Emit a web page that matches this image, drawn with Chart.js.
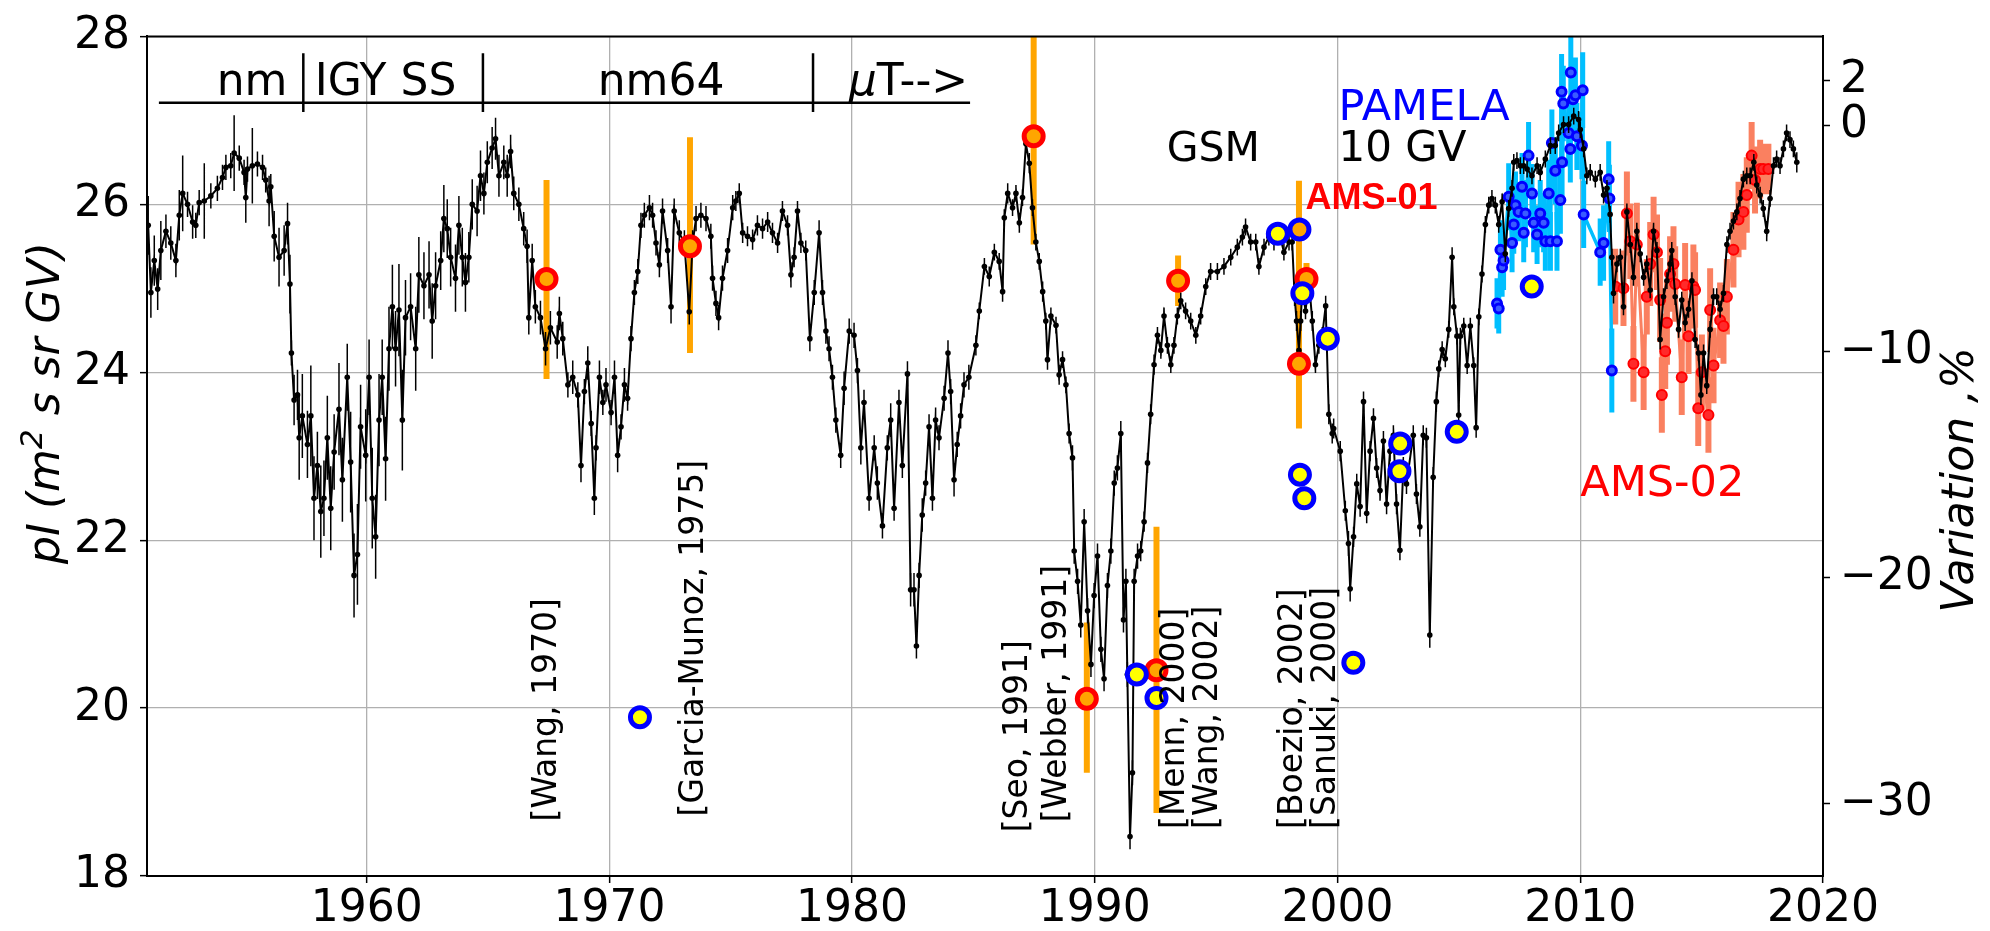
<!DOCTYPE html>
<html>
<head>
<meta charset="utf-8">
<script src="https://cdn.jsdelivr.net/npm/chart.js@4.4.0/dist/chart.umd.min.js"></script>
<style>
  html, body { margin: 0; padding: 0; background: #fff; }
  #wrap { width: 1990px; height: 931px; position: relative; }
</style>
</head>
<body>
<div id="wrap"><canvas id="chart"></canvas></div>
<script>
// GSM 10 GV reconstructed intensity, with balloon / satellite measurements
const gsmYears = [
  1951.0, 1951.11, 1951.25, 1951.39, 1951.52, 1951.73, 1951.93, 1952.14, 1952.28, 1952.42,
  1952.62, 1952.83, 1952.96, 1953.1, 1953.31, 1953.58, 1953.85, 1954.06, 1954.2, 1954.4,
  1954.54, 1954.75, 1954.95, 1955.02, 1955.09, 1955.29, 1955.5, 1955.71, 1955.84, 1955.98,
  1956.05, 1956.19, 1956.39, 1956.6, 1956.74, 1956.84, 1956.9, 1957.01, 1957.15, 1957.22,
  1957.35, 1957.56, 1957.7, 1957.83, 1957.97, 1958.11, 1958.24, 1958.38, 1958.52, 1958.66,
  1958.86, 1959.0, 1959.2, 1959.34, 1959.48, 1959.62, 1959.75, 1959.96, 1960.1, 1960.23,
  1960.37, 1960.51, 1960.64, 1960.78, 1960.92, 1961.06, 1961.19, 1961.33, 1961.47, 1961.6,
  1961.81, 1962.02, 1962.15, 1962.36, 1962.57, 1962.7, 1962.84, 1963.05, 1963.18, 1963.32,
  1963.46, 1963.66, 1963.8, 1963.94, 1964.07, 1964.21, 1964.35, 1964.55, 1964.69, 1964.83,
  1964.97, 1965.17, 1965.31, 1965.45, 1965.65, 1965.79, 1965.93, 1966.06, 1966.27, 1966.47,
  1966.61, 1966.68, 1966.82, 1966.95, 1967.16, 1967.37, 1967.57, 1967.85,
  1967.94, 1968.08, 1968.29, 1968.49, 1968.7, 1968.83, 1968.97, 1969.11, 1969.25, 1969.38,
  1969.45, 1969.59, 1969.73, 1969.86, 1970.07, 1970.21, 1970.34, 1970.48, 1970.62, 1970.75,
  1970.89, 1971.03, 1971.17, 1971.3, 1971.44, 1971.65, 1971.78, 1971.92, 1972.06, 1972.19,
  1972.4, 1972.54, 1972.67, 1972.88, 1973.09, 1973.29, 1973.43, 1973.57, 1973.77, 1973.98,
  1974.18, 1974.25, 1974.39, 1974.5, 1974.66, 1974.87, 1975.08, 1975.21, 1975.35, 1975.49,
  1975.69, 1975.9, 1976.1, 1976.31, 1976.52, 1976.72, 1976.93, 1977.13, 1977.34, 1977.48,
  1977.61, 1977.75, 1977.89, 1978.09, 1978.26, 1978.44, 1978.64, 1978.78, 1978.92, 1979.05,
  1979.19, 1979.33, 1979.53, 1979.67, 1979.88, 1980.08, 1980.22, 1980.36, 1980.49, 1980.7,
  1980.91, 1981.04, 1981.25, 1981.45, 1981.59, 1981.73, 1981.93, 1982.07, 1982.28, 1982.41,
  1982.55, 1982.65, 1982.76, 1982.89, 1983.03, 1983.17, 1983.31, 1983.44, 1983.58, 1983.79,
  1983.95, 1984.06, 1984.2, 1984.33, 1984.47, 1984.61, 1984.81,
  1985.1, 1985.24, 1985.45, 1985.65, 1985.86, 1986.06, 1986.2, 1986.27, 1986.41, 1986.61,
  1986.75, 1986.89, 1987.02, 1987.16, 1987.3, 1987.43, 1987.57, 1987.71, 1987.85, 1987.98,
  1988.05, 1988.19, 1988.4, 1988.53, 1988.67, 1988.81, 1988.94, 1989.08, 1989.15, 1989.29,
  1989.42, 1989.56, 1989.7, 1989.84, 1989.97, 1990.11, 1990.25, 1990.38, 1990.52, 1990.66,
  1990.8, 1990.93, 1991.07, 1991.18, 1991.28, 1991.34, 1991.45, 1991.55, 1991.62, 1991.76,
  1991.89, 1992.03, 1992.17, 1992.3, 1992.44, 1992.58, 1992.72, 1992.85, 1992.99, 1993.13,
  1993.26, 1993.4, 1993.54, 1993.74, 1993.95, 1994.16, 1994.36, 1994.57, 1994.77, 1995.05,
  1995.32, 1995.6, 1995.87, 1996.08, 1996.21, 1996.42, 1996.63, 1996.76, 1996.97, 1997.17,
  1997.38, 1997.59, 1997.79, 1998.0, 1998.13, 1998.23, 1998.31, 1998.41, 1998.48, 1998.55,
  1998.68, 1998.82, 1998.96, 1999.09, 1999.23, 1999.37, 1999.51, 1999.64, 1999.78,
  1999.84, 2000.11, 2000.32, 2000.45, 2000.52, 2000.66, 2000.79, 2000.93, 2001.07, 2001.2,
  2001.34, 2001.48, 2001.61, 2001.75, 2001.89, 2002.02, 2002.16, 2002.3, 2002.43, 2002.57,
  2002.71, 2002.84, 2003.12, 2003.25, 2003.39, 2003.53, 2003.66, 2003.8, 2003.94, 2004.07,
  2004.17, 2004.31, 2004.44, 2004.58, 2004.72, 2004.79, 2004.92, 2004.99, 2005.06, 2005.2,
  2005.34, 2005.47, 2005.61, 2005.71, 2005.82, 2005.95, 2006.09, 2006.23, 2006.36, 2006.5,
  2006.64, 2006.78, 2006.91, 2007.05, 2007.19, 2007.26, 2007.39, 2007.53, 2007.67, 2007.81,
  2008.01, 2008.22, 2008.35, 2008.56, 2008.77, 2008.97, 2009.11, 2009.31, 2009.52, 2009.73,
  2009.93, 2010.0, 2010.14, 2010.27, 2010.41, 2010.62, 2010.82, 2010.96, 2011.1, 2011.23,
  2011.3, 2011.37, 2011.51, 2011.65, 2011.78, 2011.92, 2012.06, 2012.19, 2012.33, 2012.47,
  2012.61, 2012.74, 2012.88, 2013.02, 2013.16, 2013.29, 2013.43, 2013.57, 2013.7, 2013.77,
  2013.91, 2014.05, 2014.18, 2014.32, 2014.46, 2014.6, 2014.73, 2014.87, 2014.97, 2015.08,
  2015.21, 2015.35, 2015.49, 2015.62, 2015.76, 2015.9, 2016.04, 2016.17, 2016.31, 2016.45,
  2016.58, 2016.72, 2016.86, 2017.0, 2017.15, 2017.27, 2017.41, 2017.54, 2017.68, 2017.82,
  2017.96, 2018.09, 2018.23, 2018.37, 2018.5, 2018.64, 2018.78, 2018.92
];
const gsmValues = [
  25.75, 24.95, 25.33, 24.99, 25.45, 25.68, 25.54, 25.33, 25.87, 26.13,
  26.0, 25.79, 25.75, 26.02, 26.04, 26.1, 26.19, 26.32, 26.44, 26.46,
  26.61, 26.55, 26.38, 26.08, 26.42, 26.46, 26.48, 26.44, 26.29, 26.04,
  26.21, 25.62, 25.37, 25.45, 25.77, 25.05, 24.23, 23.67, 23.73, 23.22,
  23.48, 23.14, 23.48, 22.5, 22.89, 22.34, 22.5, 23.22, 22.38, 23.05,
  23.56, 22.72, 23.94, 22.93, 21.58, 21.83, 23.35, 23.01, 23.94, 22.5,
  22.04, 23.43, 23.94, 22.97, 24.28, 24.78, 24.28, 24.74, 23.43, 24.65,
  24.78, 24.28, 25.16, 25.03, 25.16, 24.61, 25.03, 25.33, 25.83, 25.71,
  25.37, 25.12, 25.75, 25.37, 25.07, 25.37, 26.0, 25.92, 26.34, 26.13,
  26.5, 26.67, 26.78, 26.34, 26.5, 26.34, 26.63, 26.13, 26.0, 25.71,
  25.5, 24.65, 25.33, 24.78, 24.65, 24.28, 24.53, 24.36,
  24.7, 24.4, 23.85, 23.94, 23.73, 22.89, 23.77, 24.11, 23.39, 22.5,
  23.1, 23.94, 23.64, 23.85, 23.52, 23.94, 23.01, 23.35, 23.85, 23.69,
  24.4, 24.95, 25.2, 25.75, 25.87, 25.96, 25.87, 25.54, 25.28, 25.92,
  25.45, 24.78, 25.92, 25.66, 25.54, 24.72, 25.54, 25.83, 25.87, 25.83,
  25.62, 25.12, 24.82, 24.65, 25.12, 25.45, 25.96, 26.04, 26.13, 25.66,
  25.62, 25.58, 25.75, 25.71, 25.79, 25.66, 25.54, 25.92, 25.75, 25.16,
  25.37, 25.92, 25.54, 25.45, 24.4, 24.95, 25.66, 24.95, 24.49, 24.28,
  23.94, 23.43, 23.01, 23.81, 24.49, 24.44, 24.02, 23.1, 23.64, 22.5,
  23.1, 22.68, 22.17, 23.1, 23.43, 22.38, 23.64, 22.89, 23.98, 21.41,
  21.41, 20.74, 21.58, 22.3, 22.68, 23.35, 22.5, 23.43, 23.22, 23.69,
  24.23, 23.77, 22.72, 23.14, 23.48, 23.85, 23.94,
  24.32, 24.73, 25.26, 25.14, 25.43, 25.32, 24.96, 25.84, 26.13, 25.96,
  26.13, 25.78, 26.08, 26.72, 26.49, 25.96, 25.55, 25.32, 24.96, 24.61,
  24.15, 24.67, 24.56, 23.97, 24.15, 23.85, 23.27, 22.98, 21.87, 21.51,
  20.99, 22.22, 21.16, 20.52, 21.34, 21.81, 20.7, 20.35, 21.46, 21.87,
  22.68, 22.86, 23.27, 21.05, 21.51, 20.4, 18.47, 19.23, 21.51, 21.81,
  21.87, 22.22, 22.92, 23.5, 24.09, 24.44, 24.26, 24.67, 24.32, 24.09,
  24.32, 24.67, 24.85, 24.73, 24.61, 24.44, 24.67, 25.02, 25.2, 25.2,
  25.26, 25.37, 25.49, 25.61, 25.73, 25.55, 25.55, 25.26, 25.49, 25.61,
  25.55, 25.67, 25.43, 25.55, 25.55, 24.91, 24.61, 24.26, 24.61, 25.02,
  24.73, 25.08, 24.61, 24.09, 24.32, 24.44, 24.79, 23.5, 23.27,
  23.33, 23.06, 22.35, 21.96, 21.42, 22.04, 22.67, 22.4, 23.65, 22.32,
  23.06, 23.45, 22.86, 22.59, 23.18, 22.43, 23.06, 23.25, 22.43, 21.88,
  22.87, 22.67, 23.25, 22.55, 22.16, 23.25, 23.22, 20.87, 22.75, 23.65,
  24.04, 24.27, 24.16, 24.51, 25.37, 24.78, 24.43, 23.49, 24.43, 24.55,
  24.08, 24.55, 24.08, 23.34, 24.66, 25.17, 25.76, 25.99, 26.07, 25.99,
  25.76, 26.03, 25.41, 25.95, 26.19, 26.5, 26.52, 26.46, 26.46, 26.42,
  26.34, 26.46, 26.38, 26.54, 26.7, 26.7, 26.85, 26.95, 26.95, 27.05,
  27.01, 26.89, 26.66, 26.34, 26.38, 26.3, 26.38, 26.11, 26.19, 25.88,
  25.37, 24.94, 25.29, 25.37, 24.78, 25.91, 25.52, 25.13, 25.68, 25.41,
  25.13, 25.29, 24.98, 25.68, 25.45, 24.39, 24.9, 25.09, 25.29, 25.45,
  24.9, 24.51, 24.86, 24.59, 24.75, 25.09, 24.39, 24.23, 23.73, 24.23,
  23.84, 24.51, 24.9, 24.9, 24.75, 24.94, 25.52, 25.68, 25.8, 25.91,
  26.07, 26.3, 26.34, 26.34, 26.5, 26.23, 26.11, 25.95, 25.68, 26.07,
  26.46, 26.54, 26.46, 26.66, 26.85, 26.77, 26.66, 26.5
];
const gsmErrors = [
  0.35, 0.3, 0.3, 0.25, 0.35, 0.2, 0.2, 0.2, 0.3, 0.45,
  0.15, 0.2, 0.15, 0.15, 0.45, 0.15, 0.15, 0.15, 0.15, 0.15,
  0.45, 0.15, 0.15, 0.3, 0.15, 0.45, 0.15, 0.15, 0.15, 0.3,
  0.15, 0.3, 0.35, 0.3, 0.25, 0.35, 0.15, 0.3, 0.3, 0.5,
  0.5, 0.4, 0.6, 0.5, 0.4, 0.55, 0.45, 0.5, 0.5, 0.45,
  0.55, 0.5, 0.4, 0.6, 0.5, 0.6, 0.5, 0.55, 0.45, 0.6,
  0.5, 0.55, 0.45, 0.5, 0.5, 0.5, 0.45, 0.55, 0.6, 0.45,
  0.4, 0.5, 0.45, 0.4, 0.4, 0.45, 0.4, 0.35, 0.4, 0.35,
  0.35, 0.4, 0.35, 0.35, 0.35, 0.3, 0.3, 0.3, 0.3, 0.25,
  0.25, 0.25, 0.25, 0.25, 0.2, 0.25, 0.2, 0.2, 0.2, 0.2,
  0.2, 0.2, 0.2, 0.2, 0.2, 0.2, 0.2, 0.2,
  0.2, 0.2, 0.15, 0.2, 0.15, 0.2, 0.15, 0.2, 0.15, 0.2,
  0.15, 0.2, 0.15, 0.2, 0.15, 0.2, 0.2, 0.15, 0.2, 0.15,
  0.15, 0.15, 0.15, 0.15, 0.15, 0.15, 0.15, 0.15, 0.15, 0.15,
  0.15, 0.2, 0.15, 0.15, 0.15, 0.15, 0.15, 0.15, 0.15, 0.15,
  0.15, 0.15, 0.15, 0.15, 0.15, 0.15, 0.15, 0.12, 0.12, 0.12,
  0.12, 0.12, 0.12, 0.12, 0.12, 0.12, 0.12, 0.12, 0.12, 0.15,
  0.12, 0.12, 0.12, 0.12, 0.15, 0.15, 0.15, 0.15, 0.15, 0.15,
  0.15, 0.15, 0.15, 0.2, 0.15, 0.15, 0.15, 0.2, 0.15, 0.15,
  0.15, 0.2, 0.15, 0.15, 0.2, 0.15, 0.15, 0.15, 0.15, 0.2,
  0.2, 0.15, 0.15, 0.2, 0.15, 0.15, 0.15, 0.15, 0.15, 0.15,
  0.15, 0.15, 0.2, 0.15, 0.15, 0.15, 0.15,
  0.12, 0.1, 0.1, 0.12, 0.1, 0.1, 0.12, 0.1, 0.12, 0.1,
  0.1, 0.12, 0.1, 0.1, 0.12, 0.1, 0.1, 0.1, 0.12, 0.1,
  0.12, 0.1, 0.1, 0.12, 0.1, 0.1, 0.12, 0.15, 0.15, 0.15,
  0.15, 0.15, 0.15, 0.15, 0.15, 0.15, 0.15, 0.15, 0.15, 0.15,
  0.15, 0.15, 0.15, 0.15, 0.15, 0.15, 0.15, 0.15, 0.15, 0.15,
  0.12, 0.12, 0.12, 0.12, 0.12, 0.1, 0.1, 0.1, 0.1, 0.1,
  0.1, 0.1, 0.1, 0.1, 0.1, 0.1, 0.1, 0.1, 0.1, 0.1,
  0.1, 0.1, 0.1, 0.1, 0.1, 0.1, 0.1, 0.1, 0.1, 0.1,
  0.1, 0.1, 0.1, 0.1, 0.1, 0.12, 0.12, 0.12, 0.12, 0.12,
  0.1, 0.1, 0.12, 0.1, 0.1, 0.1, 0.12, 0.12, 0.12,
  0.12, 0.12, 0.12, 0.15, 0.15, 0.12, 0.12, 0.12, 0.12, 0.12,
  0.12, 0.12, 0.12, 0.12, 0.12, 0.12, 0.12, 0.12, 0.12, 0.12,
  0.12, 0.12, 0.12, 0.12, 0.12, 0.12, 0.12, 0.15, 0.12, 0.12,
  0.1, 0.1, 0.1, 0.1, 0.12, 0.1, 0.1, 0.12, 0.1, 0.1,
  0.1, 0.1, 0.1, 0.12, 0.1, 0.1, 0.1, 0.1, 0.1, 0.1,
  0.1, 0.1, 0.1, 0.1, 0.1, 0.1, 0.1, 0.1, 0.1, 0.1,
  0.1, 0.1, 0.1, 0.1, 0.1, 0.1, 0.1, 0.1, 0.1, 0.1,
  0.1, 0.1, 0.1, 0.1, 0.1, 0.1, 0.1, 0.1, 0.1, 0.1,
  0.1, 0.12, 0.1, 0.1, 0.1, 0.1, 0.1, 0.1, 0.1, 0.1,
  0.1, 0.1, 0.1, 0.1, 0.1, 0.12, 0.1, 0.1, 0.1, 0.1,
  0.1, 0.1, 0.1, 0.1, 0.1, 0.1, 0.1, 0.1, 0.12, 0.1,
  0.1, 0.1, 0.1, 0.1, 0.1, 0.1, 0.1, 0.1, 0.1, 0.1,
  0.1, 0.1, 0.1, 0.1, 0.1, 0.1, 0.1, 0.1, 0.12, 0.1,
  0.1, 0.1, 0.1, 0.1, 0.1, 0.1, 0.1, 0.12
];

const pamelaYears = [
  2006.57, 2006.64, 2006.71, 2006.78, 2006.84, 2007.05, 2007.19, 2007.26, 2007.33, 2007.46,
  2007.6, 2007.67, 2007.74, 2007.87, 2008.01, 2008.08, 2008.22, 2008.35, 2008.49, 2008.56,
  2008.7, 2008.77, 2008.83, 2008.97, 2009.04, 2009.18, 2009.23, 2009.25, 2009.3, 2009.52,
  2009.59, 2009.61, 2009.7, 2009.8, 2009.86, 2010.07, 2010.1, 2010.14, 2010.82, 2010.96,
  2011.17, 2011.2, 2011.3
];
const pamelaValues = [
  24.82, 24.76, 25.46, 25.25, 25.33, 26.09, 25.54, 25.76, 25.99, 25.91,
  26.21, 25.66, 25.89, 26.58, 26.13, 25.78, 25.64, 25.89, 25.78, 25.56,
  26.13, 25.56, 26.73, 26.4, 25.56, 26.05, 27.34, 26.5, 27.2, 26.85,
  26.66, 27.57, 27.25, 27.3, 26.81, 26.7, 27.36, 25.88, 25.43, 25.54,
  26.3, 26.07, 24.02
];
const pamelaErrors = [
  0.3, 0.3, 0.35, 0.35, 0.35, 0.4, 0.35, 0.35, 0.4, 0.35,
  0.4, 0.35, 0.4, 0.4, 0.35, 0.35, 0.35, 0.4, 0.35, 0.35,
  0.4, 0.35, 0.4, 0.4, 0.35, 0.4, 0.45, 0.4, 0.45, 0.4,
  0.4, 0.45, 0.45, 0.45, 0.4, 0.4, 0.45, 0.4, 0.4, 0.45,
  0.45, 0.4, 0.5
];

const ams02Years = [
  2011.44, 2011.78, 2011.92, 2012.06, 2012.19, 2012.33, 2012.61, 2012.74, 2012.88, 2013.02,
  2013.16, 2013.29, 2013.36, 2013.5, 2013.57, 2013.7, 2013.84, 2013.91, 2014.18, 2014.32,
  2014.46, 2014.66, 2014.73, 2014.86, 2015.01, 2015.28, 2015.35, 2015.49, 2015.76, 2015.9,
  2016.04, 2016.31, 2016.52, 2016.72, 2016.86, 2017.06, 2017.2, 2017.41, 2017.54, 2017.75
];
const ams02Values = [
  25.02, 25.0, 25.89, 25.56, 24.1, 25.52, 24.0, 24.9, 25.29, 25.64,
  25.43, 24.86, 23.73, 24.25, 24.59, 25.17, 25.29, 25.05, 23.94, 25.04,
  24.43, 25.02, 24.98, 23.57, 24.0, 23.49, 24.74, 24.08, 24.62, 24.55,
  24.9, 25.46, 25.82, 25.91, 26.11, 26.58, 26.29, 26.42, 26.42, 26.42
];
const ams02Errors = [
  0.45, 0.45, 0.5, 0.45, 0.45, 0.5, 0.45, 0.45, 0.5, 0.45,
  0.45, 0.5, 0.45, 0.45, 0.5, 0.45, 0.45, 0.45, 0.45, 0.5,
  0.45, 0.5, 0.45, 0.45, 0.45, 0.45, 0.5, 0.45, 0.45, 0.45,
  0.45, 0.45, 0.45, 0.45, 0.45, 0.4, 0.4, 0.35, 0.3, 0.3
];

// balloon points (red ring, orange bar)
const balloonYears = [1967.41, 1973.32, 1987.48, 1989.67, 1992.54, 1993.43, 1998.41, 1998.72];
const balloonValues = [25.11, 25.5, 26.81, 20.11, 20.45, 25.09, 24.1, 25.11];
const balloonLow = [23.92, 24.23, 25.52, 19.23, 18.75, 24.79, 23.33, 24.9];
const balloonHigh = [26.29, 26.8, 28.2, 21.02, 22.16, 25.39, 26.28, 25.3];

// other experiments (blue ring, yellow fill)
const otherYears = [1971.26, 1991.73, 1992.54, 1997.54, 1998.45, 1998.63, 1998.55, 1999.6, 2000.65, 2002.58, 2002.55, 2004.91, 2008.0];
const otherValues = [19.89, 20.4, 20.12, 25.65, 22.78, 22.5, 24.94, 24.4, 20.54, 23.15, 22.82, 23.29, 25.02];

const ams01Years = [1998.43];
const ams01Values = [25.7];

const yearTicks = [1960, 1970, 1980, 1990, 2000, 2010, 2020];
const fluxTicks = [18, 20, 22, 24, 26, 28];
const variationTicks = [-30, -20, -10, 0, 2];
const referenceFlux = 26.94; // flux at 0 % variation

const refLabels = [
  { text: '[Wang, 1970]', x: 1967.45, y: 18.65 },
  { text: '[Garcia-Munoz, 1975]', x: 1973.5, y: 18.71 },
  { text: '[Seo, 1991]', x: 1986.87, y: 18.52 },
  { text: '[Webber, 1991]', x: 1988.44, y: 18.64 },
  { text: '[Menn, 2000]', x: 1993.33, y: 18.56 },
  { text: '[Wang, 2002]', x: 1994.69, y: 18.56 },
  { text: '[Boezio, 2002]', x: 1998.19, y: 18.56 },
  { text: '[Sanuki, 2000]', x: 1999.55, y: 18.56 }
];

const FONT = "'DejaVu Sans', sans-serif";

function pts(xs, ys) {
  return xs.map((x, i) => ({ x: x, y: ys[i] }));
}

// vertical error bars, drawn right before the owning dataset
const errorBars = {
  id: 'errorBars',
  beforeDatasetDraw(chart, args) {
    const ds = chart.data.datasets[args.index];
    if (!ds.errLow) return;
    const { ctx, chartArea, scales } = chart;
    const x = scales.x, y = scales.y;
    ctx.save();
    ctx.beginPath();
    ctx.rect(chartArea.left, chartArea.top, chartArea.right - chartArea.left, chartArea.bottom - chartArea.top);
    ctx.clip();
    ctx.strokeStyle = ds.errColor;
    ctx.lineWidth = ds.errWidth;
    ctx.beginPath();
    ds.data.forEach((p, i) => {
      const px = x.getPixelForValue(p.x);
      ctx.moveTo(px, y.getPixelForValue(ds.errLow[i]));
      ctx.lineTo(px, y.getPixelForValue(ds.errHigh[i]));
    });
    ctx.stroke();
    ctx.restore();
  }
};

function rotatedText(ctx, parts, cx, cy) {
  ctx.save();
  ctx.translate(cx, cy);
  ctx.rotate(-Math.PI / 2);
  let total = 0;
  parts.forEach(p => { ctx.font = p.font; p.w = ctx.measureText(p.t).width; total += p.w; });
  let x = -total / 2;
  ctx.textAlign = 'left';
  ctx.textBaseline = 'middle';
  ctx.fillStyle = '#000';
  parts.forEach(p => { ctx.font = p.font; ctx.fillText(p.t, x, p.dy || 0); x += p.w; });
  ctx.restore();
}

const annotations = {
  id: 'annotations',
  afterDraw(chart) {
    const { ctx, chartArea, scales } = chart;
    const X = v => scales.x.getPixelForValue(v);
    const Y = v => scales.y.getPixelForValue(v);
    ctx.save();

    // top frame line
    ctx.strokeStyle = '#000';
    ctx.lineWidth = 2;
    ctx.beginPath();
    ctx.moveTo(chartArea.left, chartArea.top);
    ctx.lineTo(chartArea.right, chartArea.top);
    ctx.stroke();

    // instrument periods at the top
    ctx.lineWidth = 2.5;
    ctx.beginPath();
    ctx.moveTo(X(1951.44), Y(27.21));
    ctx.lineTo(X(1984.86), Y(27.21));
    [1957.39, 1964.79, 1978.39].forEach(yr => {
      ctx.moveTo(X(yr), Y(27.8));
      ctx.lineTo(X(yr), Y(27.1));
    });
    ctx.stroke();

    ctx.textAlign = 'left';
    ctx.textBaseline = 'alphabetic';
    ctx.fillStyle = '#000';
    ctx.font = '44px ' + FONT;
    ctx.fillText('nm', X(1953.82), Y(27.3));
    ctx.fillText('IGY SS', X(1957.86), Y(27.3));
    ctx.fillText('nm64', X(1969.52), Y(27.3));
    ctx.font = 'italic 44px ' + FONT;
    ctx.fillText('\u03bc', X(1979.86), Y(27.3));
    const muW = ctx.measureText('\u03bc').width;
    ctx.font = '44px ' + FONT;
    ctx.fillText('T-->', X(1979.86) + muW, Y(27.3));

    ctx.font = '41px ' + FONT;
    ctx.fillText('GSM', X(1992.96), Y(26.52));
    ctx.font = '42px ' + FONT;
    ctx.fillText('10 GV', X(2000.04), Y(26.52));
    ctx.fillStyle = '#0000ff';
    ctx.font = '43px ' + FONT;
    ctx.fillText('PAMELA', X(2000.04), Y(27.01));
    ctx.fillStyle = '#ff0000';
    ctx.font = "bold 36px 'Liberation Sans', Arial, sans-serif";
    ctx.fillText('AMS-01', X(1998.68), Y(25.95));
    ctx.font = '43px ' + FONT;
    ctx.fillText('AMS-02', X(2010.0), Y(22.53));

    // references, rotated
    ctx.fillStyle = '#000';
    ctx.font = '33px ' + FONT;
    refLabels.forEach(r => {
      ctx.save();
      ctx.translate(X(r.x), Y(r.y));
      ctx.rotate(-Math.PI / 2);
      ctx.textAlign = 'left';
      ctx.textBaseline = 'middle';
      ctx.fillText(r.text, 0, 0);
      ctx.restore();
    });

    // axis titles
    const it = 'italic 44px ' + FONT;
    const sup = 'italic 31px ' + FONT;
    rotatedText(ctx, [
      { t: 'pI (m', font: it },
      { t: '2', font: sup, dy: -14 },
      { t: ' s sr GV)', font: it }
    ], 48, 403);
    rotatedText(ctx, [{ t: 'Variation ,%', font: it }], 1962, 480);

    ctx.restore();
  }
};

const fixedTicks = list => scale => { scale.ticks = list.map(v => ({ value: v })); };
const minus = v => (v < 0 ? '\u2212' + Math.abs(v) : String(v));

new Chart(document.getElementById('chart'), {
  type: 'scatter',
  data: {
    datasets: [
      {
        label: 'AMS-01',
        data: pts(ams01Years, ams01Values),
        pointRadius: 9.5, pointBorderWidth: 5,
        pointBorderColor: '#0000ff', pointBackgroundColor: '#ffa500',
        order: 0
      },
      {
        label: 'others',
        data: pts(otherYears, otherValues),
        pointRadius: 9.5, pointBorderWidth: 5,
        pointBorderColor: '#0000ff', pointBackgroundColor: '#ffff00',
        order: 1
      },
      {
        label: 'balloons',
        data: pts(balloonYears, balloonValues),
        pointRadius: 9.5, pointBorderWidth: 5,
        pointBorderColor: '#ff0000', pointBackgroundColor: '#ffa500',
        order: 2
      },
      {
        label: 'GSM',
        data: pts(gsmYears, gsmValues),
        showLine: true, borderColor: '#000', borderWidth: 2,
        pointRadius: 2.8, pointBorderWidth: 0, pointBackgroundColor: '#000',
        errLow: gsmValues.map((v, i) => v - gsmErrors[i]),
        errHigh: gsmValues.map((v, i) => v + gsmErrors[i]),
        errColor: '#000', errWidth: 1.5,
        order: 3
      },
      {
        label: 'balloon errors',
        data: pts(balloonYears, balloonValues),
        pointRadius: 0,
        errLow: balloonLow, errHigh: balloonHigh,
        errColor: '#ffa500', errWidth: 6,
        order: 4
      },
      {
        label: 'PAMELA',
        data: pts(pamelaYears, pamelaValues),
        showLine: true, borderColor: '#00bfff', borderWidth: 3.5,
        pointRadius: 4.5, pointBorderWidth: 3,
        pointBorderColor: '#0000ff', pointBackgroundColor: '#3a5cff',
        errLow: pamelaValues.map((v, i) => v - pamelaErrors[i]),
        errHigh: pamelaValues.map((v, i) => v + pamelaErrors[i]),
        errColor: '#00bfff', errWidth: 5,
        order: 5
      },
      {
        label: 'AMS-02',
        data: pts(ams02Years, ams02Values),
        showLine: true, borderColor: '#fa8060', borderWidth: 3,
        pointRadius: 5, pointBorderWidth: 2,
        pointBorderColor: '#ff0000', pointBackgroundColor: '#ff2a2a',
        errLow: ams02Values.map((v, i) => v - ams02Errors[i]),
        errHigh: ams02Values.map((v, i) => v + ams02Errors[i]),
        errColor: '#fa8060', errWidth: 6,
        order: 6
      }
    ]
  },
  options: {
    responsive: true,
    maintainAspectRatio: false,
    animation: false,
    events: [],
    layout: { padding: { top: 26, left: 0, right: 0, bottom: 0 } },
    plugins: { legend: { display: false }, tooltip: { enabled: false } },
    scales: {
      x: {
        type: 'linear',
        min: 1950.95,
        max: 2020,
        afterBuildTicks: fixedTicks(yearTicks),
        afterFit: s => { s.height = 55; },
        grid: { color: '#b0b0b0', lineWidth: 1.3, tickColor: '#000', tickLength: 7, tickWidth: 1.5 },
        border: { color: '#000', width: 2 },
        ticks: { color: '#000', font: { family: FONT, size: 44 }, padding: 0, maxRotation: 0, callback: v => String(v) }
      },
      y: {
        type: 'linear',
        position: 'left',
        min: 18,
        max: 28,
        afterBuildTicks: fixedTicks(fluxTicks),
        afterFit: s => { s.width = 147; },
        grid: { color: '#b0b0b0', lineWidth: 1.3, tickColor: '#000', tickLength: 7, tickWidth: 1.5 },
        border: { color: '#000', width: 2 },
        ticks: { color: '#000', font: { family: FONT, size: 44 }, padding: 10, callback: v => String(v) }
      },
      y2: {
        type: 'linear',
        position: 'right',
        min: (18 / referenceFlux - 1) * 100,
        max: (28 / referenceFlux - 1) * 100,
        afterBuildTicks: fixedTicks(variationTicks),
        afterFit: s => { s.width = 167; },
        grid: { drawOnChartArea: false, color: '#000', tickColor: '#000', tickLength: 7, tickWidth: 1.5 },
        border: { color: '#000', width: 2 },
        ticks: { color: '#000', font: { family: FONT, size: 44 }, padding: 10, callback: minus }
      }
    }
  },
  plugins: [errorBars, annotations]
});
</script>
</body>
</html>
